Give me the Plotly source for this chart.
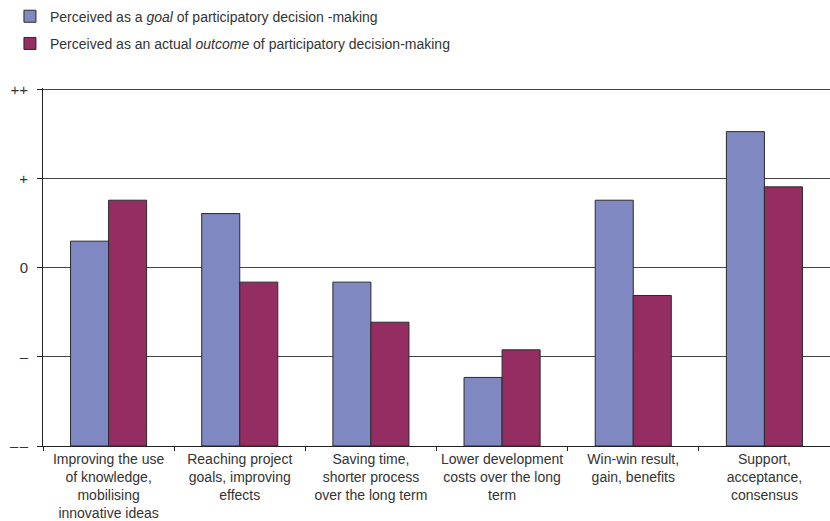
import plotly.graph_objects as go

categories = [
    "Improving the use<br>of knowledge,<br>mobilising<br>innovative ideas",
    "Reaching project<br>goals, improving<br>effects",
    "Saving time,<br>shorter process<br>over the long term",
    "Lower development<br>costs over the long<br>term",
    "Win-win result,<br>gain, benefits",
    "Support,<br>acceptance,<br>consensus",
]
goal_values = [0.30, 0.61, -0.16, -1.23, 0.76, 1.53]
outcome_values = [0.76, -0.16, -0.61, -0.92, -0.31, 0.91]
tick_values = [-2, -1, 0, 1, 2]
tick_labels = ["\u2013\u200a\u2013", "\u2013", "0", "+", "++"]
baseline = -2

goal_name = "Perceived as a <i>goal</i> of participatory decision -making"
outcome_name = "Perceived as an actual <i>outcome</i> of participatory decision-making"

fig = go.Figure()
fig.add_trace(go.Bar(
    x=categories, y=[v - baseline for v in goal_values], base=baseline,
    name=goal_name, legendgroup="g1",
    marker=dict(color="#7f88c0", line=dict(color="#2a2a2a", width=1)),
))
fig.add_trace(go.Bar(
    x=categories, y=[v - baseline for v in outcome_values], base=baseline,
    name=outcome_name, legendgroup="g2",
    marker=dict(color="#942e62", line=dict(color="#2a2a2a", width=1)),
))

fig.update_layout(
    width=830, height=521,
    margin=dict(l=43, r=0, t=88, b=75, autoexpand=False),
    paper_bgcolor="white", plot_bgcolor="white",
    barmode="group", bargap=0.42, bargroupgap=0,
    font=dict(family="Liberation Sans, Arial, sans-serif", size=14, color="#333333"),
    showlegend=True,
    legend=dict(
        x=-0.042, xanchor="left", y=1.244, yanchor="top",
        traceorder="grouped", tracegroupgap=6,
        font=dict(size=14, color="#333333"),
        bgcolor="rgba(0,0,0,0)",
    ),
)
fig.update_yaxes(
    range=[-2, 2.02], tickvals=tick_values, ticktext=tick_labels,
    showgrid=True, gridcolor="#444444", gridwidth=1,
    showline=True, linecolor="#222222", linewidth=1,
    ticks="outside", ticklen=5, tickcolor="#222222",
    ticklabelstandoff=6, zeroline=False, automargin=False,
    tickfont=dict(size=15, color="#333333"),
)
fig.update_xaxes(
    showline=True, linecolor="#222222", linewidth=1,
    ticks="outside", ticklen=4, tickcolor="#222222",
    tickson="boundaries", showgrid=False, tickangle=0, automargin=False,
    tickfont=dict(size=14, color="#333333"),
)

fig.write_html("out.html")
